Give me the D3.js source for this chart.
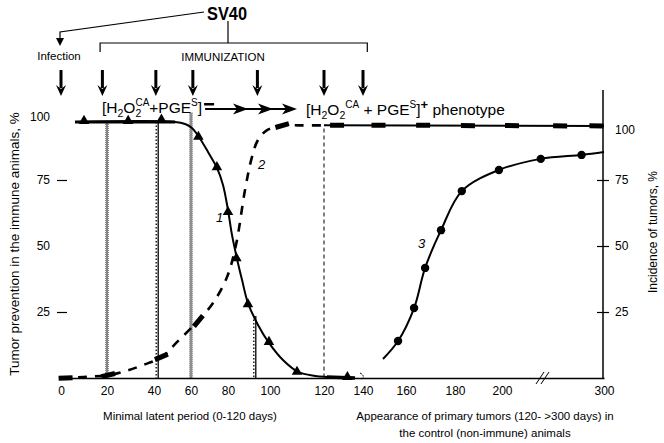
<!DOCTYPE html>
<html><head><meta charset="utf-8">
<script src="https://cdn.jsdelivr.net/npm/d3@7"></script>
<style>
body{margin:0;background:#fff;}
svg{display:block;font-family:"Liberation Sans",Arial,sans-serif;}
text{white-space:pre;}
</style></head><body>
<svg id="c" width="664" height="443"></svg>
<script>
// ---------- data ----------
const xTickValues = [0, 20, 40, 60, 80, 100, 120, 140, 160, 180, 200, 300];
const yTickValues = [25, 50, 75, 100];

// curve 1: tumor prevention (solid line, triangles)
const curve1Days   = [6.1, 51.4, 56.8, 60.5, 64.3, 69.2, 74.1, 77.3, 80, 81.9, 84.3, 86.7, 89.5, 94.3, 99.5, 104.8, 110.4, 116.7, 121.5, 135.9];
const curve1Values = [97, 97, 96.2, 94.7, 91.3, 85.6, 79.5, 73.1, 63.6, 54.2, 45.1, 37.1, 28.4, 20.1, 13.3, 6.8, 2.3, 0.8, 0.4, 0];
const curve1MarkDays   = [10, 29, 44, 64, 74, 80, 84, 89.5, 99.5, 110, 132];
const curve1MarkValues = [97, 97, 97.5, 91, 79.5, 62.5, 45, 27.6, 13.3, 2, 0];

// curve 2: dashed rising curve, then plateau with bar markers
const curve2Days   = [0, 9.6, 20.4, 28.1, 35.3, 44.3, 52.4, 63.8, 71.9, 79.5, 83.8, 88.1, 91.4, 94.3, 98.6, 104.8, 111.1, 120];
const curve2Values = [0, 0.4, 1.1, 2.7, 4.9, 8, 13.6, 21.6, 28.4, 38.3, 50.4, 71.2, 83.7, 90.2, 93.9, 95.6, 95.7, 95.7];
const curve2PlateauDays   = [120, 300];
const curve2PlateauValues = [95.7, 95.5];
const curve2MarkDays   = [2, 20.5, 44, 64, 104.5, 126.7, 147.2, 167, 185.5, 209.8, 257, 292.6];
const curve2MarkValues = [0, 1.1, 8, 21.6, 95.6, 95.7, 95.7, 95.7, 95.6, 95.6, 95.5, 95.5];

// curve 3: incidence of tumors in controls (solid line, circles)
const curve3Days   = [149.3, 156.3, 163.3, 167.8, 174.3, 182.9, 198.7, 238, 278, 300];
const curve3Values = [7.2, 14, 26.5, 41.7, 56, 70.8, 78.8, 83, 84.5, 85.6];
const curve3MarkDays   = [156.3, 163.3, 167.8, 174.3, 182.9, 198.7, 238, 278];
const curve3MarkValues = [14, 26.5, 41.7, 56, 70.8, 78.8, 83, 84.5];

// vertical reference lines (day, top value)
const vlineDays = [20, 42, 60, 93, 120];
const vlineTops = [97, 97, 100.5, 23.5, 94.5];

// schedule arrows
const infectionDay = 0;
const immunizationDays = [18, 41, 61, 94, 120, 140];

// ---------- scales ----------
const svg = d3.select('#c');
const x = d3.scaleLinear().domain(xTickValues)
  .range([61, 107, 154, 191, 228, 270, 324, 363, 406, 455, 502, 604]);
const y = d3.scaleLinear().domain([0, 100]).range([378, 114]);
const zip = (a, b) => a.map((d, i) => [d, b[i]]);

// ---------- axes ----------
const gx = svg.append('g').attr('transform', 'translate(0,378)')
  .call(d3.axisBottom(x).tickValues(xTickValues).tickSize(0).tickPadding(8).tickSizeOuter(0));
gx.select('.domain').attr('stroke', '#000').attr('stroke-width', 1.5);
gx.selectAll('text').attr('font-size', 12).attr('font-family', 'Liberation Sans, Arial').attr('fill', '#000');

const gl = svg.append('g').attr('transform', 'translate(67,0)')
  .call(d3.axisLeft(y).tickValues(yTickValues).tickSize(10).tickPadding(7));
gl.select('.domain').remove();
gl.selectAll('.tick').filter(d => d === 50 || d === 100).select('line').remove();
gl.selectAll('.tick line').attr('stroke', '#000').attr('stroke-width', 1.2);
gl.selectAll('text').attr('font-size', 12).attr('font-family', 'Liberation Sans, Arial').attr('fill', '#000');
gl.selectAll('.tick').filter(d => d === 100).select('text').attr('dy', '0.55em');

const gr = svg.append('g').attr('transform', 'translate(603,0)')
  .call(d3.axisRight(y).tickValues(yTickValues).tickSize(6).tickPadding(6));
gr.select('.domain').remove();
gr.selectAll('.tick line').attr('x1', -6).attr('stroke', '#000').attr('stroke-width', 1.2);
gr.selectAll('.tick').filter(d => d === 100).select('line').remove();
gr.selectAll('.tick').filter(d => d === 100).select('text').attr('dy', '1.6em');
gr.selectAll('text').attr('font-size', 12).attr('font-family', 'Liberation Sans, Arial').attr('fill', '#000');
svg.append('line').attr('x1', 603).attr('x2', 603).attr('y1', 90).attr('y2', 378)
  .attr('stroke', '#000').attr('stroke-width', 1.5);

// axis break marks
svg.append('path').attr('d', 'M536,384L544,372M541,384L549,372').attr('stroke', '#000').attr('stroke-width', 1).attr('fill', 'none');
svg.append('path').attr('d', 'M360,373Q366,376 361,380').attr('stroke', '#000').attr('stroke-width', 1).attr('fill', 'none').attr('stroke-dasharray', '2,1');

// axis titles
svg.append('text').attr('transform', 'translate(19,244) rotate(-90)').attr('text-anchor', 'middle')
  .attr('font-size', 13.5).text('Tumor prevention in the immune animals, %');
svg.append('text').attr('transform', 'translate(657,232) rotate(-90)').attr('text-anchor', 'middle')
  .attr('font-size', 12).text('Incidence of tumors, %');
svg.append('text').attr('x', 190).attr('y', 420).attr('text-anchor', 'middle').attr('font-size', 11.5)
  .text('Minimal latent period (0-120 days)');
svg.append('text').attr('x', 485).attr('y', 420).attr('text-anchor', 'middle').attr('font-size', 11.5)
  .text('Appearance of primary tumors (120- >300 days) in');
svg.append('text').attr('x', 485).attr('y', 437).attr('text-anchor', 'middle').attr('font-size', 11.5)
  .text('the control (non-immune) animals');

// ---------- vertical reference lines ----------
vlineDays.forEach((d, i) => {
  const xp = x(d), y1 = y(vlineTops[i]), y2 = 378;
  const g = svg.append('g');
  if (i === 0 || i === 2) { // checkered
    [-1, 0, 1].forEach((o, k) => g.append('line').attr('x1', xp + o).attr('x2', xp + o).attr('y1', y1).attr('y2', y2)
      .attr('stroke', '#000').attr('stroke-width', 1).attr('stroke-dasharray', '1,1').attr('stroke-dashoffset', k % 2));
  } else if (i === 1 || i === 3) { // solid + dotted
    g.append('line').attr('x1', xp + 0.5).attr('x2', xp + 0.5).attr('y1', y1).attr('y2', y2).attr('stroke', '#000').attr('stroke-width', 1.3);
    g.append('line').attr('x1', xp - 1.5).attr('x2', xp - 1.5).attr('y1', y1).attr('y2', y2).attr('stroke', '#000').attr('stroke-width', 1.3).attr('stroke-dasharray', '1.5,2');
  } else { // thin dashed
    g.append('line').attr('x1', xp).attr('x2', xp).attr('y1', y1).attr('y2', y2).attr('stroke', '#000').attr('stroke-width', 1).attr('stroke-dasharray', '4,3');
  }
});

// ---------- curves ----------
const line = d3.line().x(d => x(d[0])).y(d => y(d[1])).curve(d3.curveCatmullRom.alpha(0.5));

// curve 1
const c1 = zip(curve1Days, curve1Values);
svg.append('path').attr('d', line(c1)).attr('fill', 'none').attr('stroke', '#000').attr('stroke-width', 2);
svg.append('path').attr('d', line(c1.filter(d => d[0] <= 52))).attr('fill', 'none').attr('stroke', '#000').attr('stroke-width', 3);
svg.append('path').attr('d', line(c1.filter(d => d[0] >= 121))).attr('fill', 'none').attr('stroke', '#000').attr('stroke-width', 3.5);
svg.selectAll('.tri').data(zip(curve1MarkDays, curve1MarkValues)).enter().append('path')
  .attr('transform', d => `translate(${x(d[0])},${y(d[1]) - 1})`)
  .attr('d', d3.symbol(d3.symbolTriangle, 48)).attr('fill', '#000');

// curve 2
const c2 = zip(curve2Days, curve2Values);
svg.append('path').attr('d', line(c2)).attr('fill', 'none').attr('stroke', '#000')
  .attr('stroke-width', 2.6).attr('stroke-dasharray', '9,8');
svg.append('path').attr('d', d3.line().x(d => x(d[0])).y(d => y(d[1]))(zip(curve2PlateauDays, curve2PlateauValues)))
  .attr('fill', 'none').attr('stroke', '#000').attr('stroke-width', 2);
function angleAt(day) {
  const all = c2.concat(zip(curve2PlateauDays, curve2PlateauValues));
  let i = all.findIndex(d => d[0] > day); if (i <= 0) i = 1;
  const a = all[i - 1], b = all[i];
  return Math.atan2(y(b[1]) - y(a[1]), x(b[0]) - x(a[0])) * 180 / Math.PI;
}
svg.selectAll('.bar').data(zip(curve2MarkDays, curve2MarkValues)).enter().append('rect')
  .attr('x', -7).attr('y', -2.5).attr('width', 14).attr('height', 5).attr('fill', '#000')
  .attr('transform', d => `translate(${x(d[0])},${y(d[1])}) rotate(${angleAt(d[0])})`);

// curve 3
svg.append('path').attr('d', line(zip(curve3Days, curve3Values))).attr('fill', 'none').attr('stroke', '#000').attr('stroke-width', 2);
svg.selectAll('.dot').data(zip(curve3MarkDays, curve3MarkValues)).enter().append('circle')
  .attr('cx', d => x(d[0])).attr('cy', d => y(d[1])).attr('r', 4.2).attr('fill', '#000');

// curve labels
[['1', 216, 222], ['2', 258, 169], ['3', 418, 248]].forEach(([t, px, py]) =>
  svg.append('text').attr('x', px).attr('y', py).attr('font-size', 13).attr('font-style', 'italic').text(t));

// ---------- top schedule ----------
function downArrow(xp, y0, y1) {
  svg.append('line').attr('x1', xp).attr('x2', xp).attr('y1', y0).attr('y2', y1 - 8).attr('stroke', '#000').attr('stroke-width', 3);
  svg.append('path').attr('d', `M${xp - 5},${y1 - 11}L${xp},${y1 - 7}L${xp + 5},${y1 - 11}L${xp},${y1}Z`).attr('fill', '#000');
}
downArrow(x(infectionDay), 70, 96);
immunizationDays.forEach(d => downArrow(x(d), 70, 96));

svg.append('text').attr('x', 227).attr('y', 20).attr('text-anchor', 'middle').attr('font-size', 19).attr('font-weight', 'bold')
  .attr('textLength', 40).attr('lengthAdjust', 'spacingAndGlyphs').text('SV40');
svg.append('path').attr('d', 'M204,12L60,32L60,40').attr('stroke', '#000').attr('stroke-width', 1.2).attr('fill', 'none');
svg.append('path').attr('d', 'M56,38L60,46L64,38Z').attr('fill', '#000');
const bx0 = x(17), bx1 = x(142);
svg.append('path').attr('d', `M228,21L228,43M${bx0},52L${bx0},43L${bx1},43L${bx1},52`).attr('stroke', '#000').attr('stroke-width', 1.2).attr('fill', 'none');
svg.append('text').attr('x', 59).attr('y', 60).attr('text-anchor', 'middle').attr('font-size', 11.5).text('Infection');
svg.append('text').attr('x', 223).attr('y', 61).attr('text-anchor', 'middle').attr('font-size', 11.5).text('IMMUNIZATION');

function rich(x0, y0, pieces) {
  let cx = x0, prevX = x0;
  pieces.forEach(p => {
    const t = svg.append('text').attr('y', y0 + (p.dy || 0)).attr('font-size', p.size)
      .attr('font-weight', p.bold ? 'bold' : null).text(p.t);
    const w = t.node().getComputedTextLength();
    if (p.stack) { t.attr('x', prevX); cx = Math.max(cx, prevX + w); }
    else { t.attr('x', cx); prevX = cx; cx += w; }
  });
  return cx;
}
const L = 15.5, S = 10.5;
const endLeft = rich(102, 113, [
  {t: '[H', size: L}, {t: '2', size: S, dy: 4}, {t: 'O', size: L},
  {t: 'CA', size: S - 0.5, dy: -7}, {t: '2', size: S, dy: 4, stack: true},
  {t: '+PGE', size: L}, {t: 'S', size: S - 0.5, dy: -7}, {t: ']', size: L}]);
svg.append('rect').attr('x', endLeft + 2).attr('y', 103).attr('width', 10).attr('height', 2.5).attr('fill', '#000');
svg.append('line').attr('x1', endLeft + 3).attr('x2', 290).attr('y1', 109).attr('y2', 109).attr('stroke', '#000').attr('stroke-width', 2);
[248, 273, 297].forEach(t => svg.append('path')
  .attr('d', `M${t},109L${t - 15},103.5L${t - 11},109L${t - 15},114.5Z`).attr('fill', '#000'));
rich(306, 115, [
  {t: '[H', size: L}, {t: '2', size: S, dy: 4}, {t: 'O', size: L}, {t: '2', size: S, dy: 4},
  {t: 'CA', size: S - 0.5, dy: -7}, {t: ' + PGE', size: L}, {t: 'S', size: S - 0.5, dy: -7}, {t: ']', size: L},
  {t: '+', size: 13, dy: -6, bold: true}, {t: ' phenotype', size: L}]);
</script>
</body></html>
